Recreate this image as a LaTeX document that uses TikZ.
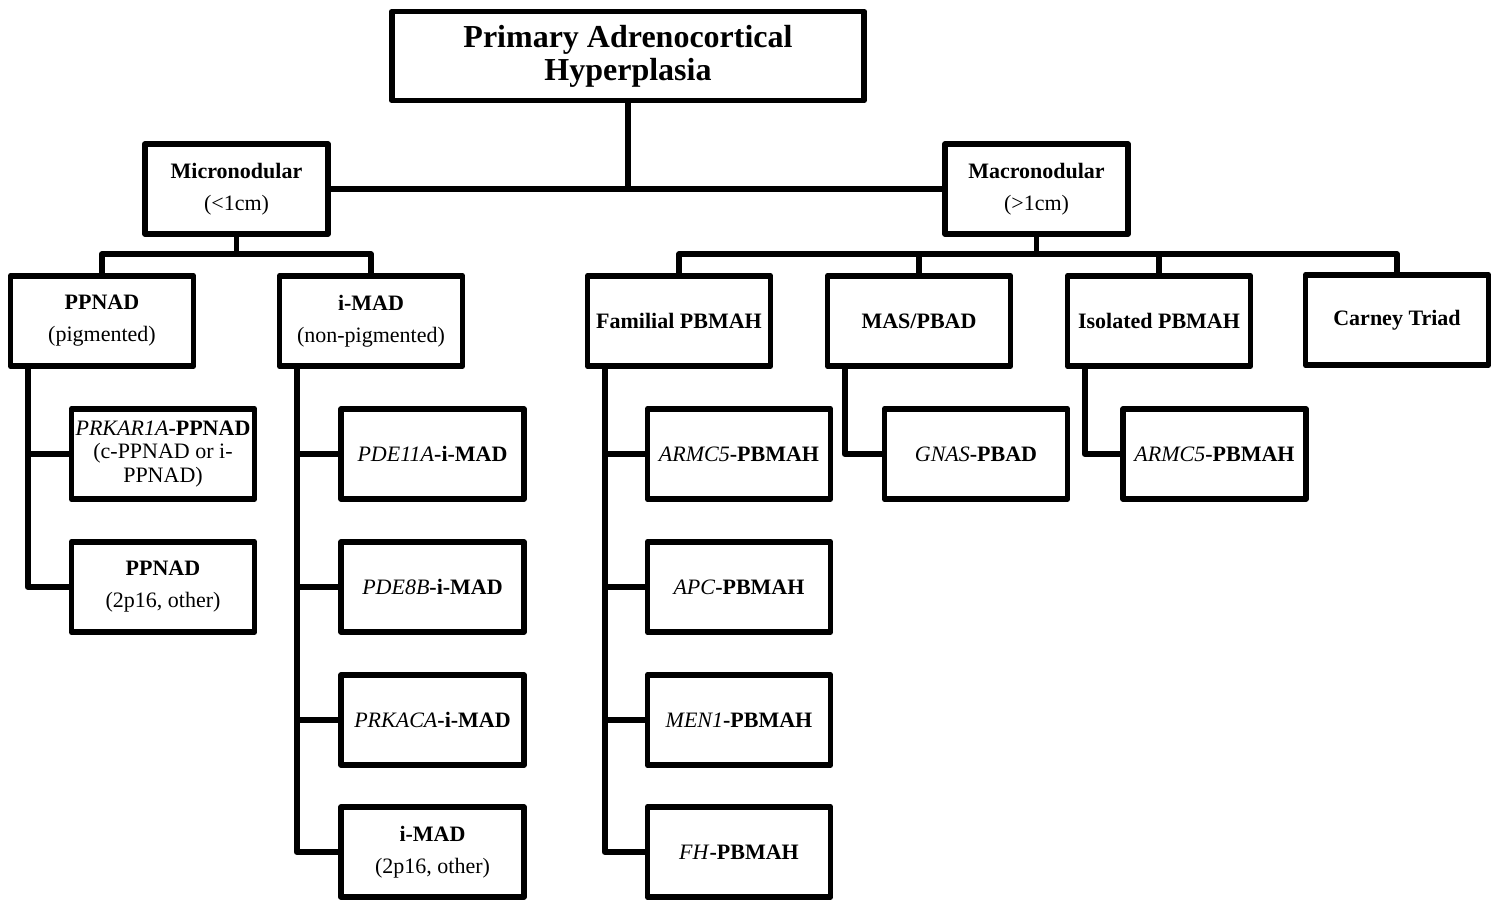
\documentclass[tikz,border=0pt]{standalone}
\usepackage{fontspec}
\setmainfont{Liberation Serif}
\begin{document}
\begin{tikzpicture}[x=0.5pt,y=-0.5pt,
  box/.style={draw, line width=2.9pt, line join=round, minimum width=91.5pt, minimum height=45pt,
    align=center, inner sep=1pt, font=\fontsize{11}{16}\selectfont},
  conn/.style={line width=2.9pt, line join=round}]
\useasboundingbox (0,0) rectangle (1500,907);
% level 0
\node[box, minimum width=236pt, minimum height=44.5pt, font=\fontsize{16}{16.5}\selectfont\bfseries] (title) at (628,56) {Primary Adrenocortical\\Hyperplasia};
% level 1
\node[box] (micro) at (236.5,189) {\textbf{Micronodular}\\(<1cm)};
\node[box] (macro) at (1036.5,189) {\textbf{Macronodular}\\(>1cm)};
% level 2
\node[box] (ppnad) at (102,321) {\textbf{PPNAD}\\(pigmented)};
\node[box] (imad) at (371,321) {\textbf{i-MAD}\\(non-pigmented)};
\node[box] (fam) at (679,321) {\textbf{Familial PBMAH}};
\node[box] (mas) at (919,321) {\textbf{MAS/PBAD}};
\node[box] (iso) at (1159,321) {\textbf{Isolated PBMAH}};
\node[box] (carney) at (1397,320) {\textbf{Carney Triad}};
% level 3
\node[box, font=\fontsize{11}{11.8}\selectfont, inner sep=0pt] (prk) at (163,454) {\textit{PRKAR1A}\textbf{-PPNAD}\\(c-PPNAD or i-\\PPNAD)};
\node[box] (pp2) at (163,587) {\textbf{PPNAD}\\(2p16, other)};
\node[box] (pde11) at (432.5,454) {\textit{PDE11A}\textbf{-i-MAD}};
\node[box] (pde8) at (432.5,587) {\textit{PDE8B}\textbf{-i-MAD}};
\node[box] (prkaca) at (432.5,720) {\textit{PRKACA}\textbf{-i-MAD}};
\node[box] (imad2) at (432.5,852) {\textbf{i-MAD}\\(2p16, other)};
\node[box] (armc5) at (739,454) {\textit{ARMC5}\textbf{-PBMAH}};
\node[box] (apc) at (739,587) {\textit{APC}\textbf{-PBMAH}};
\node[box] (men1) at (739,720) {\textit{MEN1}\textbf{-PBMAH}};
\node[box] (fh) at (739,852) {\textit{FH}\textbf{-PBMAH}};
\node[box] (gnas) at (976,454) {\textit{GNAS}\textbf{-PBAD}};
\node[box] (armc5b) at (1214.5,454) {\textit{ARMC5}\textbf{-PBMAH}};
% connectors
\coordinate (hub0) at (628,187);
\draw[conn] (micro.east) -- (macro.west);
\draw[conn] (title.south) -- (hub0);
\coordinate (hub1) at (236.5,254);
\draw[conn] (micro.south) -- (hub1);
\draw[conn] (ppnad.north) -- (ppnad.north |- hub1) -- (imad.north |- hub1) -- (imad.north);
\coordinate (hub2) at (1036.5,254);
\draw[conn] (macro.south) -- (hub2);
\draw[conn] (fam.north) -- (fam.north |- hub2) -- (carney.north |- hub2) -- (carney.north);
\draw[conn] (mas.north) -- (mas.north |- hub2);
\draw[conn] (iso.north) -- (iso.north |- hub2);
% vertical branches
\draw[conn] ([xshift=10pt]ppnad.south west) |- (pp2.west);
\draw[conn] ([xshift=10pt]ppnad.south west |- prk.west) -- (prk.west);
\draw[conn] ([xshift=10pt]imad.south west) |- (imad2.west);
\foreach \n in {pde11,pde8,prkaca}
  \draw[conn] ([xshift=10pt]imad.south west |- \n.west) -- (\n.west);
\draw[conn] ([xshift=10pt]fam.south west) |- (fh.west);
\foreach \n in {armc5,apc,men1}
  \draw[conn] ([xshift=10pt]fam.south west |- \n.west) -- (\n.west);
\draw[conn] ([xshift=10pt]mas.south west) |- (gnas.west);
\draw[conn] ([xshift=10pt]iso.south west) |- (armc5b.west);
\end{tikzpicture}
\end{document}
